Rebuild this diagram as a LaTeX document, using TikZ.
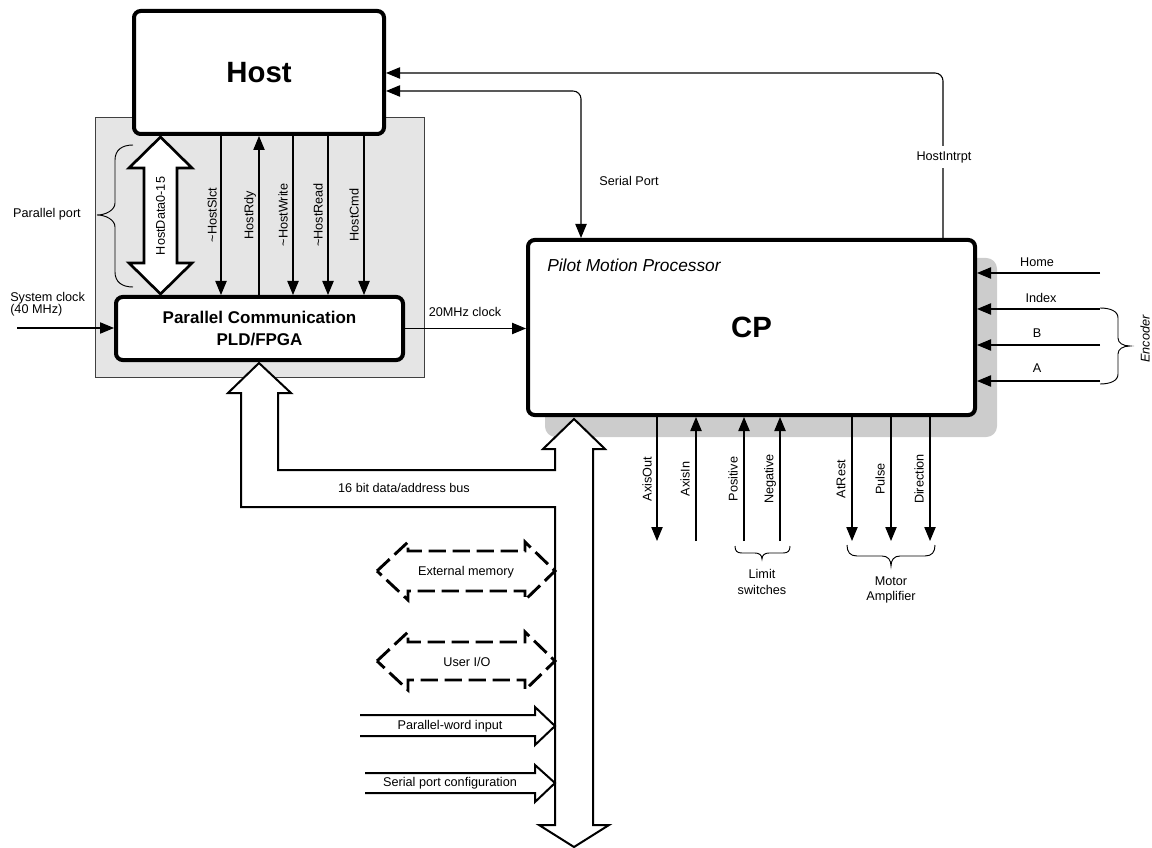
\documentclass[tikz,border=0pt]{standalone}
\usepackage{fontspec}
\setmainfont{Liberation Sans}
\usetikzlibrary{arrows.meta}
\begin{document}
\begin{tikzpicture}[x=0.75pt,y=-0.75pt,
  tri/.tip={Triangle[length=10.5pt,width=8.5pt]},
  arr/.style={-tri},
  sig/.style={line width=0.8pt},
  lbl/.style={font=\fontsize{9.5}{11}\selectfont, inner sep=1pt},
  rlbl/.style={lbl, rotate=90},
  bigbox/.style={draw, line width=3pt, rounded corners=5pt, fill=white, inner sep=0pt},
  bus/.style={draw, line width=1.5pt, fill=white, line join=miter},
  dhex/.style={draw, line width=2.2pt, dash pattern=on 13pt off 5pt},
  fat/.style={draw, line width=1.5pt, line join=miter},
  brace/.style={line width=0.7pt},
]
\useasboundingbox (0,0) rectangle (1152,848);

% grey parallel-port region
\path[fill=gray!20, draw=black!75, line width=0.7pt] (95,117) rectangle (424,377);

% boxes
\node[bigbox, minimum width=187.5pt, minimum height=92.25pt,
      font=\bfseries\fontsize{22}{26}\selectfont] (host) at (259,72.5) {Host};
\path[fill=gray!40, rounded corners=8pt] (545,258) rectangle (997,437);
\node[bigbox, minimum width=335.25pt, minimum height=131.25pt,
      font=\bfseries\fontsize{22}{26}\selectfont] (cp) at (751.5,327.5) {CP};
\node[anchor=west, font=\itshape\fontsize{13}{15}\selectfont, inner sep=0pt] (pmp) at (547,265) {Pilot Motion Processor};
\node[bigbox, minimum width=215.25pt, minimum height=47.25pt, align=center,
      font=\bfseries\fontsize{12.75}{16.5}\selectfont] (pc) at (259.5,328.5) {Parallel Communication\\PLD/FPGA};

% 16 bit bus
\path[bus] (259,363) -- (291,393) -- (278,393) -- (278,470) -- (555,470) -- (555,449)
  -- (543,449) -- (574,419) -- (605,449) -- (593,449) -- (593,825) -- (609,825)
  -- (574,847) -- (539,825) -- (555,825) -- (555,507) -- (241,507) -- (241,393)
  -- (228,393) -- cycle;
\node[lbl] (busl) at (404,488) {16 bit data/address bus};

% HostData double arrow
\path[fill=white, draw, line width=2pt, line join=miter] (160.5,137) -- (192,168) -- (177,168) -- (177,263) -- (192,263)
  -- (160.5,294) -- (129,263) -- (144,263) -- (144,168) -- (129,168) -- cycle;
\node[rlbl] (hd) at (160.5,216) {HostData0-15};

% host control signals
\coordinate (hs1) at (221,0);
\coordinate (hs2) at (259,0);
\coordinate (hs3) at (293,0);
\coordinate (hs4) at (328,0);
\coordinate (hs5) at (364,0);
\draw[sig,arr] (host.south -| hs1) -- (pc.north -| hs1);
\draw[sig,arr] (pc.north -| hs2) -- (host.south -| hs2);
\draw[sig,arr] (host.south -| hs3) -- (pc.north -| hs3);
\draw[sig,arr] (host.south -| hs4) -- (pc.north -| hs4);
\draw[sig,arr] (host.south -| hs5) -- (pc.north -| hs5);
\node[rlbl] (l1) at (212,215) {\textasciitilde HostSlct};
\node[rlbl] (l2) at (250,215) {HostRdy};
\node[rlbl] (l3) at (283,215) {\textasciitilde HostWrite};
\node[rlbl] (l4) at (318,215) {\textasciitilde HostRead};
\node[rlbl] (l5) at (354,215) {HostCmd};

% parallel port brace
\draw[brace] (133,145) .. controls (122,145) and (115,150) .. (115,160) -- (115,203)
  .. controls (115,210) and (106,215) .. (97,215) .. controls (106,215) and (115,220) .. (115,227)
  -- (115,272) .. controls (115,282) and (122,287) .. (133,287);
\node[lbl] (pp) at (47,214) {Parallel port};

% system clock
\node[lbl, align=left, anchor=west, font=\fontsize{9.5}{9}\selectfont, inner sep=0pt] (sysl) at (10,304) {System clock\\(40 MHz)};
\coordinate (sysin) at (17,328);
\draw[sig,arr] (sysin) -- (sysin -| pc.west);

% 20 MHz clock
\draw[sig,arr] (pc.east) -- (pc.east -| cp.west);
\node[lbl] (l20) at (465,312) {20MHz clock};

% top connections
\coordinate (hitop) at (943,73);
\draw[sig,arr,rounded corners=6pt] (cp.north -| hitop) -- (hitop) -- (hitop -| host.east);
\node[lbl, fill=white, inner ysep=4pt, inner xsep=0.5pt] (hil) at (944,157) {HostIntrpt};
\coordinate (sptop) at (581,91);
\draw[sig,tri-tri,rounded corners=6pt] (sptop -| host.east) -- (sptop) -- (sptop |- cp.north);
\node[lbl] (spl) at (629,181) {Serial Port};

% right-side inputs
\coordinate (ihome) at (1100,273);
\coordinate (iindex) at (1100,309);
\coordinate (ib) at (1100,345);
\coordinate (ia) at (1100,381);
\draw[sig,arr] (ihome) -- (ihome -| cp.east);
\draw[sig,arr] (iindex) -- (iindex -| cp.east);
\draw[sig,arr] (ib) -- (ib -| cp.east);
\draw[sig,arr] (ia) -- (ia -| cp.east);
\node[lbl] (lhome) at (1037,262) {Home};
\node[lbl] (lindex) at (1041,298) {Index};
\node[lbl] (lb) at (1037,333) {B};
\node[lbl] (la) at (1037,368) {A};
\draw[brace] (1100,308) .. controls (1110,308) and (1118,311) .. (1118,318) -- (1118,338)
  .. controls (1118,343) and (1123,346) .. (1130,346) .. controls (1123,346) and (1118,349) .. (1118,354)
  -- (1118,374) .. controls (1118,381) and (1110,384) .. (1100,384);
\node[lbl, rotate=90, font=\itshape\fontsize{9.5}{11}\selectfont] (enc) at (1145,339) {Encoder};

% bottom signals
\coordinate (bo1) at (657,541);
\coordinate (bo2) at (696,541);
\coordinate (bo3) at (744,541);
\coordinate (bo4) at (780,541);
\coordinate (bo5) at (852,541);
\coordinate (bo6) at (891,541);
\coordinate (bo7) at (930,541);
\draw[sig,arr] (bo1 |- cp.south) -- (bo1);
\draw[sig,arr] (bo2) -- (bo2 |- cp.south);
\draw[sig,arr] (bo3) -- (bo3 |- cp.south);
\draw[sig,arr] (bo4) -- (bo4 |- cp.south);
\draw[sig,arr] (bo5 |- cp.south) -- (bo5);
\draw[sig,arr] (bo6 |- cp.south) -- (bo6);
\draw[sig,arr] (bo7 |- cp.south) -- (bo7);
\node[rlbl] (b1) at (647,479) {AxisOut};
\node[rlbl] (b2) at (685,479) {AxisIn};
\node[rlbl] (b3) at (733,479) {Positive};
\node[rlbl] (b4) at (770,479) {Negative};
\node[rlbl] (b5) at (841,479) {AtRest};
\node[rlbl] (b6) at (880,479) {Pulse};
\node[rlbl] (b7) at (919,479) {Direction};

\draw[brace] (735,546) .. controls (735,551) and (737,553) .. (742,553) -- (755,553)
  .. controls (759,553) and (762,555) .. (762,559) .. controls (762,555) and (765,553) .. (769,553)
  -- (783,553) .. controls (788,553) and (790,551) .. (790,546);
\node[lbl, align=center, font=\fontsize{9.5}{12}\selectfont] (lim) at (762,582) {Limit\\switches};
\draw[brace] (847,545) .. controls (847,552) and (850,556) .. (857,556) -- (882,556)
  .. controls (888,556) and (891,560) .. (891,566) .. controls (891,560) and (894,556) .. (900,556)
  -- (925,556) .. controls (932,556) and (935,552) .. (935,545);
\node[lbl, align=center, font=\fontsize{9.5}{11.5}\selectfont] (mot) at (891,590) {Motor\\Amplifier};

% external memory / user I/O
\path[dhex] (377,571) -- (408,542) -- (408,551) -- (525,551) -- (525,542) -- (555,571)
  -- (525,600) -- (525,591) -- (408,591) -- (408,600) -- cycle;
\node[lbl] (em) at (466,572) {External memory};
\path[dhex] (377,661) -- (408,632) -- (408,642) -- (525,642) -- (525,632) -- (555,661)
  -- (525,690) -- (525,680) -- (408,680) -- (408,690) -- cycle;
\node[lbl] (uio) at (467,662) {User I/O};

% inputs to bus
\path[fat] (360,715) -- (535,715) -- (535,707) -- (555,726) -- (535,745) -- (535,736) -- (360,736);
\node[lbl] (pwi) at (450,726) {Parallel-word input};
\path[fat] (365,773) -- (535,773) -- (535,765) -- (555,783) -- (535,802) -- (535,793) -- (365,793);
\node[lbl] (spc) at (450,783) {Serial port configuration};
\end{tikzpicture}
\end{document}
